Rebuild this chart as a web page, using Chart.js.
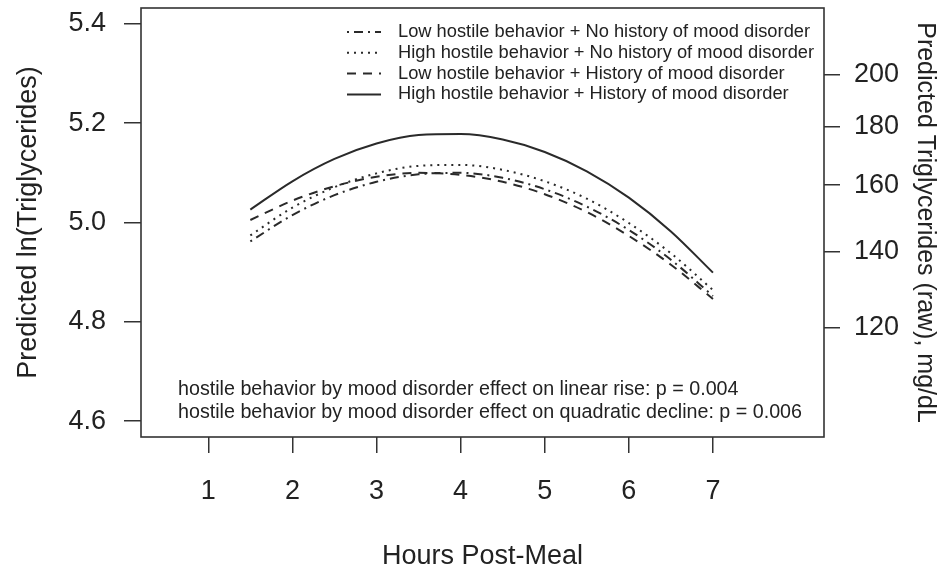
<!DOCTYPE html>
<html>
<head>
<meta charset="utf-8">
<script src="https://cdn.jsdelivr.net/npm/chart.js@4/dist/chart.umd.min.js"></script>
<style>
  html, body { margin: 0; padding: 0; background: #fff; }
  #wrap { width: 943px; height: 576px; }
</style>
</head>
<body>
<div id="wrap"><canvas id="chart" width="943" height="576"></canvas></div>
<script>
// hours after the meal where the curves were read
const hours = [1.5, 2, 2.5, 3, 3.5, 4, 4.5, 5, 5.5, 6, 6.5, 7];

// predicted ln(triglycerides)
const lowHostileNoHistory = [4.962, 5.015, 5.055, 5.082, 5.097, 5.100, 5.090, 5.067, 5.032, 4.985, 4.925, 4.852];
const highHostileNoHistory = [4.974, 5.030, 5.071, 5.099, 5.114, 5.116, 5.106, 5.083, 5.048, 4.999, 4.938, 4.864];
const lowHostileHistory = [5.005, 5.044, 5.073, 5.092, 5.100, 5.096, 5.082, 5.057, 5.021, 4.973, 4.915, 4.846];
const highHostileHistory = [5.026, 5.083, 5.128, 5.159, 5.176, 5.178, 5.167, 5.142, 5.103, 5.050, 4.982, 4.899];

const seriesLabels = [
  "Low hostile behavior + No history of mood disorder",
  "High hostile behavior + No history of mood disorder",
  "Low hostile behavior + History of mood disorder",
  "High hostile behavior + History of mood disorder"
];

const xTicks = [1, 2, 3, 4, 5, 6, 7];
const lnTicks = [4.6, 4.8, 5.0, 5.2, 5.4];
const rawTicks = [120, 140, 160, 180, 200];

const notes = [
  "hostile behavior by mood disorder effect on linear rise: p = 0.004",
  "hostile behavior by mood disorder effect on quadratic decline: p = 0.006"
];

const FONT = "'Liberation Sans', Arial, Helvetica, sans-serif";
const INK = "#222";

function pts(values) {
  return values.map(function (v, i) { return { x: hours[i], y: v }; });
}

function line(label, values, dash) {
  return {
    label: label,
    data: pts(values),
    borderColor: "#2a2a2a",
    borderWidth: 2,
    borderDash: dash,
    borderCapStyle: "butt",
    pointRadius: 0,
    fill: false,
    cubicInterpolationMode: "monotone"
  };
}

// fixed axis sizes, no extra room for labels at the ends
function fixY(w) {
  return function (s) { s.width = w; s.paddingTop = 0; s.paddingBottom = 0; };
}

// box, legend and the two p-value notes
const decor = {
  id: "decor",
  afterDraw(chart) {
    const ctx = chart.ctx;
    const a = chart.chartArea;
    ctx.save();
    ctx.strokeStyle = "#333";
    ctx.lineWidth = 1.6;
    ctx.setLineDash([]);
    ctx.strokeRect(a.left, a.top, a.right - a.left, a.bottom - a.top);

    ctx.font = "18.3px " + FONT;
    ctx.fillStyle = INK;
    ctx.textBaseline = "middle";
    ctx.textAlign = "left";
    chart.data.datasets.forEach(function (ds, i) {
      const y = a.top + 24 + i * 20.8;
      ctx.beginPath();
      ctx.strokeStyle = ds.borderColor;
      ctx.lineWidth = ds.borderWidth;
      ctx.setLineDash(ds.borderDash);
      ctx.moveTo(a.left + 206, y);
      ctx.lineTo(a.left + 240, y);
      ctx.stroke();
      ctx.fillText(ds.label, a.left + 257, y);
    });

    ctx.setLineDash([]);
    ctx.font = "19.7px " + FONT;
    notes.forEach(function (t, i) {
      ctx.fillText(t, a.left + 37, a.bottom - 47 + i * 23);
    });
    ctx.restore();
  }
};

new Chart(document.getElementById("chart"), {
  type: "line",
  data: {
    datasets: [
      line(seriesLabels[0], lowHostileNoHistory, [2, 5, 9, 5]),
      line(seriesLabels[1], highHostileNoHistory, [2, 5]),
      line(seriesLabels[2], lowHostileHistory, [9, 7]),
      line(seriesLabels[3], highHostileHistory, [])
    ]
  },
  options: {
    responsive: false,
    animation: false,
    devicePixelRatio: 1,
    layout: { padding: { top: 8, left: 0, right: 0, bottom: 0 } },
    plugins: { legend: { display: false }, tooltip: { enabled: false } },
    scales: {
      x: {
        type: "linear",
        position: "bottom",
        min: 0.2,
        max: 8.32,
        afterBuildTicks: function (s) { s.ticks = xTicks.map(function (v) { return { value: v }; }); },
        afterFit: function (s) { s.height = 139; s.paddingLeft = 0; s.paddingRight = 0; },
        grid: { drawOnChartArea: false, drawTicks: true, tickLength: 16, color: "#333", lineWidth: 1.5 },
        border: { display: false },
        ticks: { color: INK, font: { family: FONT, size: 27 }, padding: 22, callback: function (v) { return String(v); } },
        title: { display: true, text: "Hours Post-Meal", color: INK, font: { family: FONT, size: 27 }, padding: { top: 0, bottom: 3 } }
      },
      y: {
        type: "linear",
        position: "left",
        min: 4.568,
        max: 5.432,
        afterBuildTicks: function (s) { s.ticks = lnTicks.map(function (v) { return { value: v }; }); },
        afterFit: fixY(141),
        grid: { drawOnChartArea: false, drawTicks: true, tickLength: 17, color: "#333", lineWidth: 1.5 },
        border: { display: false },
        ticks: { color: INK, font: { family: FONT, size: 27 }, padding: 18, callback: function (v) { return v.toFixed(1); } },
        title: { display: true, text: "Predicted ln(Triglycerides)", color: INK, font: { family: FONT, size: 27 }, padding: { top: 12, bottom: 0 } }
      },
      y2: {
        type: "linear",
        position: "right",
        min: 4.568,
        max: 5.432,
        afterBuildTicks: function (s) { s.ticks = rawTicks.map(function (v) { return { value: Math.log(v) }; }); },
        afterFit: fixY(119),
        grid: { drawOnChartArea: false, drawTicks: true, tickLength: 16, color: "#333", lineWidth: 1.5 },
        border: { display: false },
        ticks: { color: INK, font: { family: FONT, size: 27 }, padding: 14, callback: function (v) { return String(Math.round(Math.exp(v))); } },
        title: { display: true, text: "Predicted Triglycerides (raw), mg/dL", color: INK, font: { family: FONT, size: 25 }, padding: { top: 3, bottom: 0 } }
      }
    }
  },
  plugins: [decor]
});
</script>
</body>
</html>
